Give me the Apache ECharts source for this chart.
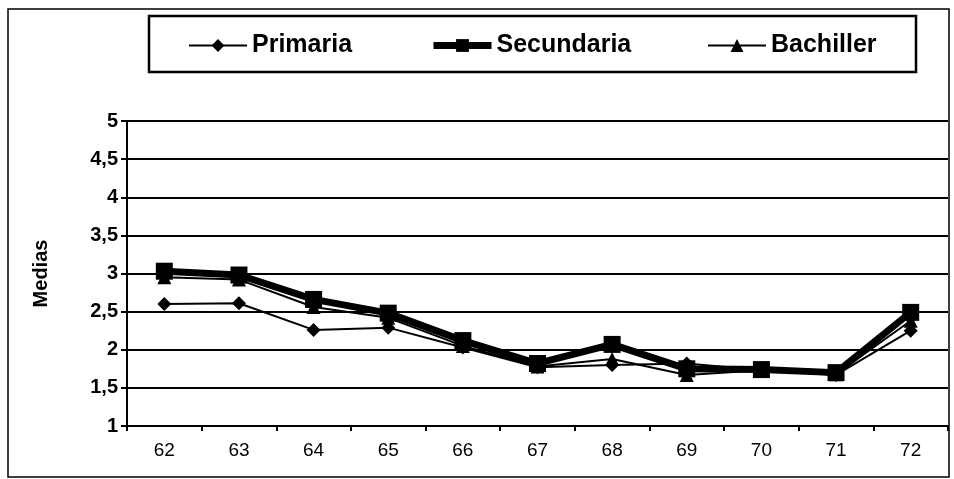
<!DOCTYPE html>
<html>
<head>
<meta charset="utf-8">
<script src="https://cdn.jsdelivr.net/npm/echarts@6/dist/echarts.min.js"></script>
<style>html,body{margin:0;padding:0;background:#fff;}#c{width:954px;height:479px;}</style>
</head>
<body>
<div id="c"></div>
<script>
const categories = ['62','63','64','65','66','67','68','69','70','71','72'];
const primaria   = [2.60, 2.61, 2.26, 2.29, 2.03, 1.77, 1.80, 1.82, 1.73, 1.67, 2.25];
const secundaria = [3.03, 2.98, 2.66, 2.48, 2.12, 1.82, 2.07, 1.75, 1.74, 1.70, 2.49];
const bachiller  = [2.95, 2.92, 2.56, 2.42, 2.05, 1.78, 1.88, 1.67, 1.73, 1.68, 2.38];
const yTicks = ['1','1,5','2','2,5','3','3,5','4','4,5','5'];

const chart = echarts.init(document.getElementById('c'));
const font = 'Liberation Sans, Arial, sans-serif';
const legendText = {fontFamily: font, fontWeight: 'bold', fontSize: 25, color: '#000'};
function leg(name, left, lw) {
  return {data: [name], left: left, top: 33, itemWidth: 58, itemHeight: 16, itemGap: 0,
    textStyle: legendText, selectedMode: false, padding: 0,
    lineStyle: {width: lw, color: '#000'}};
}
chart.setOption({
  animation: false,
  backgroundColor: '#fff',
  graphic: [
    {type: 'rect', shape: {x: 8, y: 9, width: 941, height: 468}, style: {fill: 'none', stroke: '#000', lineWidth: 1.5}, z: 0},
    {type: 'rect', shape: {x: 149, y: 16, width: 767, height: 56}, style: {fill: 'none', stroke: '#000', lineWidth: 2.5}, z: 0}
  ],
  legend: [leg('Primaria', 188, 2), leg('Secundaria', 430, 7), leg('Bachiller', 707, 2)],
  grid: {left: 127, right: 6, top: 121, bottom: 53, show: false},
  xAxis: {
    type: 'category', data: categories, boundaryGap: true,
    axisLine: {lineStyle: {color: '#000', width: 2}},
    axisTick: {show: true, length: 5, lineStyle: {color: '#000', width: 2}},
    axisLabel: {fontFamily: font, fontSize: 19, color: '#000', margin: 15}
  },
  yAxis: {
    type: 'value', min: 1, max: 5, interval: 0.5,
    name: 'Medias', nameLocation: 'middle', nameGap: 76, nameRotate: 90,
    nameTextStyle: {fontFamily: font, fontWeight: 'bold', fontSize: 20, color: '#000'},
    axisLine: {show: true, lineStyle: {color: '#000', width: 2}},
    axisTick: {show: true, length: 6, lineStyle: {color: '#000', width: 2}},
    axisLabel: {fontFamily: font, fontWeight: 'bold', fontSize: 20, color: '#000', margin: 9,
      formatter: v => yTicks[Math.round((v - 1) * 2)]},
    splitLine: {show: true, lineStyle: {color: '#000', width: 2.2}}
  },
  series: [
    {name: 'Primaria', type: 'line', data: primaria, symbol: 'diamond', symbolSize: 14,
      lineStyle: {color: '#000', width: 2}, itemStyle: {color: '#000'}, z: 3},
    {name: 'Secundaria', type: 'line', data: secundaria, symbol: 'rect', symbolSize: 17,
      lineStyle: {color: '#000', width: 7}, itemStyle: {color: '#000'}, z: 2},
    {name: 'Bachiller', type: 'line', data: bachiller, symbol: 'triangle', symbolSize: 14,
      lineStyle: {color: '#000', width: 2}, itemStyle: {color: '#000'}, z: 4}
  ]
});
</script>
</body>
</html>
